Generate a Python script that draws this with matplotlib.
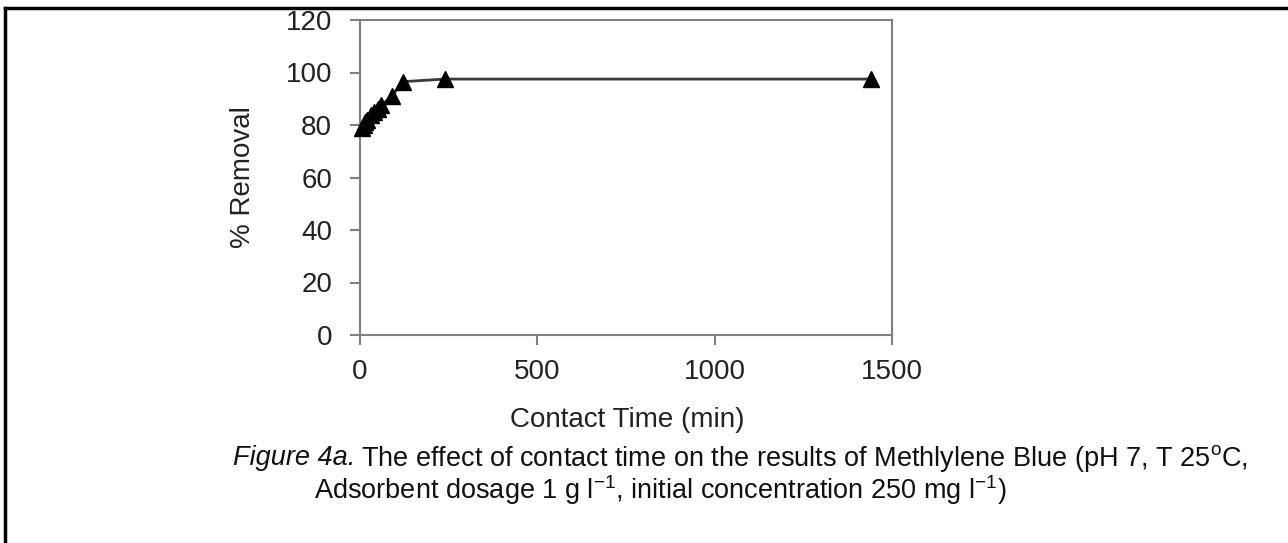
import matplotlib
matplotlib.use("Agg")
import matplotlib.pyplot as plt
from matplotlib.lines import Line2D

plt.rcParams['font.family'] = ['Liberation Sans', 'DejaVu Sans']
plt.rcParams['mathtext.fontset'] = 'custom'
plt.rcParams['mathtext.rm'] = 'Liberation Sans'
plt.rcParams['mathtext.it'] = 'Liberation Sans:italic'

# contact time (min) and % removal
contact_time = [5, 10, 15, 20, 30, 40, 50, 60, 90, 120, 240, 1440]
removal = [79, 80, 81, 82, 84, 85, 86, 87.5, 91, 96.5, 97.5, 97.5]

x_ticks = [0, 500, 1000, 1500]
y_ticks = [0, 20, 40, 60, 80, 100, 120]

W, H = 1288, 543
fig = plt.figure(figsize=(W / 100, H / 100), dpi=100)
ax = fig.add_axes([360 / W, 1 - 335 / H, 532 / W, 315 / H])

ax.plot(contact_time, removal, color='#3a3a3a', lw=2, zorder=2)
ax.plot(contact_time, removal, ls='none', marker='^', ms=12, color='black', zorder=3, clip_on=False)

ax.set_xlim(0, 1500)
ax.set_ylim(0, 120)
ax.set_xticks(x_ticks)
ax.set_yticks(y_ticks)
for s in ax.spines.values():
    s.set_color('#808080')
    s.set_linewidth(1.5)
ax.tick_params(direction='out', length=7, width=1.5, color='#808080',
               labelsize=20, labelcolor='#222222')
ax.tick_params(axis='y', pad=13)
ax.tick_params(axis='x', pad=10)

fig.text(627 / W, 1 - 420 / H, 'Contact Time (min)', ha='center', va='center',
         fontsize=20, color='#222222')
fig.text(243 / W, 1 - 177 / H, '% Removal', ha='center', va='center',
         rotation=90, fontsize=20, color='#222222')

# caption below the chart
cap = dict(va='center', fontsize=19.5, color='#111111')
t1 = fig.text(233 / W, 1 - 458 / H, 'Figure 4a.', style='italic', ha='left', **cap)
fig.canvas.draw()
bb = t1.get_window_extent()
fig.text((bb.x1 + 6) / W, 1 - 458 / H,
         r'The effect of contact time on the results of Methlylene Blue (pH 7, T 25$^{\mathrm{o}}$C,',
         ha='left', **cap)
fig.text(660 / W, 1 - 490 / H,
         r'Adsorbent dosage 1 g l$^{\mathrm{-1}}$, initial concentration 250 mg l$^{\mathrm{-1}}$)',
         ha='center', **cap)

# outer frame
fig.add_artist(Line2D([5 / W, 5 / W], [0, 1 - 8 / H], color='black', lw=2.5))
fig.add_artist(Line2D([5 / W, 1], [1 - 8 / H, 1 - 8 / H], color='black', lw=2.5))

fig.savefig('out.png', dpi=100)
